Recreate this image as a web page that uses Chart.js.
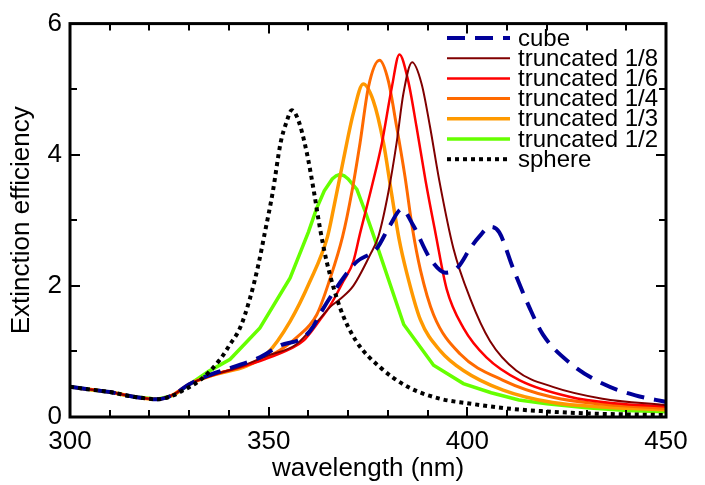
<!DOCTYPE html>
<html>
<head>
<meta charset="utf-8">
<script src="https://cdn.jsdelivr.net/npm/chart.js@4/dist/chart.umd.min.js"></script>
<style>
  html, body { margin: 0; padding: 0; background: #fff; }
  #wrap { width: 705px; height: 485px; }
</style>
</head>
<body>
<div id="wrap"><canvas id="spectra" width="705" height="485"></canvas></div>
<script>
// wavelength (nm) and extinction efficiency
const cubeNm = [300,305,310,316,322,326,330,336,341,347.8,352.9,358.7,361.2,363.2,368.8,372.2,377.2,380.5,383.5,386.4,390.6,394.6,397.7,400.7,403,405.7,408,411.5,415.7,419,425.7,434,442.3,450];
const cubeQ  = [0.46,0.42,0.38,0.31,0.27,0.34,0.5,0.66,0.76,0.91,1.09,1.21,1.38,1.6,2.12,2.37,2.57,2.92,3.17,2.92,2.42,2.2,2.29,2.57,2.75,2.9,2.82,2.27,1.66,1.26,0.83,0.51,0.33,0.23];

const t18Nm = [300,305,310,316,322,326,330,336,343,349.5,357,362.9,365.5,368,371.3,375.5,377.6,380.1,382.2,383.9,386.1,388.5,390.6,392.9,396.5,400.7,405.7,412.3,421.5,434,450];
const t18Q  = [0.46,0.42,0.38,0.31,0.27,0.34,0.5,0.64,0.77,0.93,1.11,1.5,1.68,1.8,2.0,2.47,2.75,3.42,4.18,4.93,5.41,5.08,4.43,3.62,2.57,1.81,1.16,0.71,0.46,0.28,0.18];

const t16Nm = [300,305,310,316,322,326,330,336,343,349,355.4,358.7,362.9,365.4,368.8,371.3,373,375.9,378.5,381,382.9,385.1,387.2,389.5,392,394.8,399,404.8,413.2,425.7,437,450];
const t16Q  = [0.46,0.42,0.38,0.31,0.27,0.34,0.5,0.64,0.76,0.88,1.04,1.16,1.48,1.69,2.07,2.37,2.8,3.5,4.18,5.03,5.53,5.13,4.43,3.6,2.8,1.95,1.36,0.91,0.56,0.31,0.21,0.16];

const t14Nm = [300,305,310,316,322,326,330,336,343,351.2,357,362.1,365.4,368.6,370.9,373,375.1,377.9,380.1,382.2,384.3,386.2,388.2,391.5,398.2,409,421.5,435,450];
const t14Q  = [0.46,0.42,0.38,0.31,0.27,0.34,0.5,0.64,0.76,0.96,1.21,1.56,2.1,2.75,3.42,4.18,5.03,5.44,5.13,4.43,3.67,2.87,2.24,1.56,0.96,0.56,0.30,0.19,0.13];

const t13Nm = [300,305,310,316,322,326,330,336,344.5,349.5,355.4,360.4,364.8,366.3,368.8,371.3,373.8,376.3,378.9,380.9,382.8,384.7,388.2,393.2,399,409,421.5,435,450];
const t13Q  = [0.46,0.42,0.38,0.31,0.27,0.34,0.5,0.64,0.78,0.96,1.46,2.07,2.75,3.17,3.92,4.63,5.08,4.83,4.18,3.42,2.72,2.21,1.48,1.01,0.71,0.41,0.22,0.15,0.11];

const t12Nm = [300,305,310,316,322,326,335,340.3,347.8,355.4,360,362,364,366,367,368,369,370,372.2,374.5,376.5,384,391.5,399,406,413,420,430,440,450];
const t12Q  = [0.46,0.42,0.38,0.31,0.27,0.33,0.70,0.88,1.36,2.12,2.82,3.17,3.45,3.63,3.68,3.70,3.68,3.63,3.47,3.1,2.75,1.41,0.79,0.51,0.37,0.26,0.2,0.14,0.1,0.08];

const sphereNm = [300,305,310,316,322,326,328,332.7,337.8,340.3,342.8,345.3,347.4,349,351,353,354.5,355.8,357.5,359.6,361.3,363,364.6,368,372,378,385,393,400,410,420,430,440,450];
const sphereQ  = [0.46,0.42,0.38,0.31,0.27,0.33,0.39,0.56,0.88,1.11,1.36,1.81,2.32,2.8,3.42,4.18,4.5,4.68,4.52,4.03,3.47,2.85,2.37,1.66,1.16,0.76,0.46,0.28,0.21,0.13,0.085,0.055,0.04,0.03];

const xTickLabels = [300, 350, 400, 450];
const yTickLabels = [0, 2, 4, 6];

const FONT = "'Liberation Sans', Arial, Helvetica, sans-serif";

const pts = (nm, q) => nm.map((x, i) => ({ x: x, y: q[i] }));

const datasets = [
  { label: 'cube', data: pts(cubeNm, cubeQ), borderColor: '#000099', borderWidth: 4, borderDash: [18, 10] },
  { label: 'truncated 1/8', data: pts(t18Nm, t18Q), borderColor: '#800000', borderWidth: 2 },
  { label: 'truncated 1/6', data: pts(t16Nm, t16Q), borderColor: '#ff0000', borderWidth: 2.5 },
  { label: 'truncated 1/4', data: pts(t14Nm, t14Q), borderColor: '#ff6a00', borderWidth: 3 },
  { label: 'truncated 1/3', data: pts(t13Nm, t13Q), borderColor: '#ff9900', borderWidth: 3.5 },
  { label: 'truncated 1/2', data: pts(t12Nm, t12Q), borderColor: '#66ff00', borderWidth: 3.5, tension: 0, cubicInterpolationMode: 'default' },
  { label: 'sphere', data: pts(sphereNm, sphereQ), borderColor: '#000000', borderWidth: 4, borderDash: [4, 4], order: -1 }
];
datasets.forEach(d => {
  d.pointRadius = 0;
  d.fill = false;
  d.borderCapStyle = 'butt';
  if (d.cubicInterpolationMode === undefined) d.cubicInterpolationMode = 'monotone';
});

// frame + inward ticks on all four sides
const frameTicks = {
  id: 'frameTicks',
  afterDatasetsDraw(chart) {
    const { ctx, chartArea: a, scales: { x, y } } = chart;
    ctx.save();
    ctx.strokeStyle = '#000';
    ctx.lineWidth = 2;
    ctx.beginPath();
    for (let v = 300; v <= 450; v += 10) {
      const px = Math.round(x.getPixelForValue(v));
      const len = xTickLabels.includes(v) ? 10 : 7;
      ctx.moveTo(px, a.bottom); ctx.lineTo(px, a.bottom - len);
      ctx.moveTo(px, a.top); ctx.lineTo(px, a.top + len);
    }
    for (let v = 0; v <= 6; v += 1) {
      const py = Math.round(y.getPixelForValue(v));
      const len = yTickLabels.includes(v) ? 10 : 7;
      ctx.moveTo(a.left, py); ctx.lineTo(a.left + len, py);
      ctx.moveTo(a.right, py); ctx.lineTo(a.right - len, py);
    }
    ctx.stroke();
    ctx.lineWidth = 3;
    ctx.strokeRect(a.left, a.top, a.right - a.left, a.bottom - a.top);
    ctx.restore();
  }
};

// legend drawn as in the figure: tight rows, long line samples
const plotLegend = {
  id: 'plotLegend',
  afterDraw(chart) {
    const { ctx } = chart;
    ctx.save();
    ctx.font = '24px ' + FONT;
    ctx.textBaseline = 'middle';
    ctx.fillStyle = '#000';
    chart.data.datasets.forEach((d, i) => {
      const yy = 38 + i * 20.2;
      ctx.strokeStyle = d.borderColor;
      ctx.lineWidth = d.borderWidth;
      ctx.setLineDash(d.borderDash || []);
      ctx.lineCap = 'butt';
      ctx.beginPath();
      ctx.moveTo(447, yy); ctx.lineTo(510, yy);
      ctx.stroke();
      ctx.setLineDash([]);
      ctx.fillText(d.label, 518, yy + 1);
    });
    ctx.restore();
  }
};

new Chart(document.getElementById('spectra'), {
  type: 'line',
  data: { datasets },
  options: {
    responsive: false,
    animation: false,
    devicePixelRatio: 1,
    layout: { padding: { top: 19, right: 39, left: 0, bottom: 0 } },
    plugins: { legend: { display: false }, tooltip: { enabled: false } },
    scales: {
      x: {
        type: 'linear', min: 300, max: 450,
        afterBuildTicks: s => { s.ticks = xTickLabels.map(v => ({ value: v })); },
        afterFit: s => { s.height = 68; },
        grid: { display: false, drawTicks: false },
        border: { display: false },
        ticks: { color: '#000', padding: 9, maxRotation: 0, font: { family: FONT, size: 26 } },
        title: { display: true, text: 'wavelength (nm)', color: '#000', padding: { top: 0, bottom: 1 }, font: { family: FONT, size: 26 } }
      },
      y: {
        type: 'linear', min: 0, max: 6,
        afterBuildTicks: s => { s.ticks = yTickLabels.map(v => ({ value: v })); },
        afterFit: s => { s.width = 70; },
        grid: { display: false, drawTicks: false },
        border: { display: false },
        ticks: { color: '#000', padding: 8, font: { family: FONT, size: 26 } },
        title: { display: true, text: 'Extinction efficiency', color: '#000', padding: { top: 6, bottom: 0 }, font: { family: FONT, size: 26 } }
      }
    }
  },
  plugins: [frameTicks, plotLegend]
});
</script>
</body>
</html>
